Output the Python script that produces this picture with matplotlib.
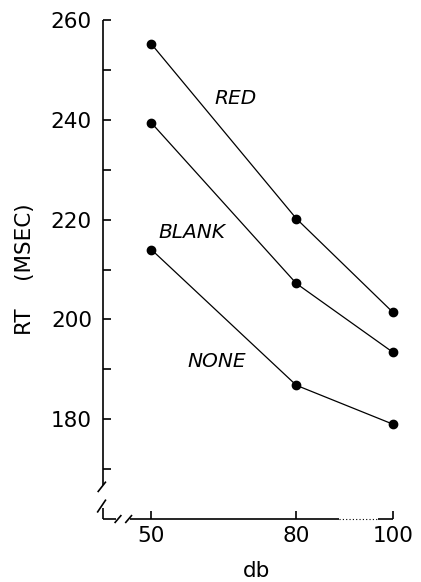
import matplotlib
matplotlib.use("Agg")
import matplotlib.pyplot as plt
from matplotlib.ticker import FixedLocator

# Reaction time (msec) by stimulus intensity (db) for each accessory condition
db_levels = [50, 80, 100]
rt_red = [255.2, 220.2, 201.4]
rt_blank = [239.4, 207.2, 193.4]
rt_none = [214.0, 186.8, 179.0]
series_names = ["RED", "BLANK", "NONE"]
name_pos = [(67.5, 244.2), (58.4, 217.5), (63.6, 191.5)]

y_major = [180, 200, 220, 240, 260]
y_minor = [170, 190, 210, 230, 250]

fig = plt.figure(figsize=(4.21, 5.82), dpi=100)
ax = fig.add_axes([0.2447, 0.1082, 0.6888, 0.8574])
ax.set_xlim(40, 100)
ax.set_ylim(160, 260)

for s in ax.spines.values():
    s.set_visible(False)

for vals in (rt_red, rt_blank, rt_none):
    ax.plot(db_levels, vals, color="black", lw=0.9, marker="o",
            markersize=6, clip_on=False, zorder=3)

for name, (x, y) in zip(series_names, name_pos):
    ax.text(x, y, name, fontsize=14.5, style="italic", ha="center",
            va="center", color="black")

# Broken axes drawn by hand
k = dict(color="black", lw=1.2, clip_on=False, solid_capstyle="butt")
ax.plot([40, 40], [260, 166.8], **k)
ax.plot([38.9, 40.6], [165.4, 167.5], **k)
ax.plot([38.8, 40.6], [161.3, 163.9], **k)
ax.plot([40, 40], [162.3, 160], **k)
ax.plot([40, 42.6], [160, 160], **k)
ax.plot([42.4, 43.8], [159.2, 160.8], **k)
ax.plot([44.6, 46.0], [159.2, 160.8], **k)
ax.plot([45.6, 88.9], [160, 160], **k)
ax.plot([88.9, 96.8], [160, 160], color="black", lw=0.8, ls=(0, (1, 2)),
        clip_on=False)
ax.plot([96.8, 100], [160, 160], **k)

ax.yaxis.set_major_locator(FixedLocator(y_major))
ax.yaxis.set_minor_locator(FixedLocator(y_minor))
ax.set_yticklabels([str(v) for v in y_major])
ax.xaxis.set_major_locator(FixedLocator(db_levels))
ax.set_xticklabels([str(v) for v in db_levels])

ax.tick_params(axis="both", which="both", direction="in", length=6,
               width=1.2, color="black", labelsize=15.5)
ax.tick_params(axis="y", pad=8)
ax.tick_params(axis="x", pad=5)

ax.set_ylabel("RT    (MSEC)", fontsize=15.5)
ax.yaxis.set_label_coords(-0.235, 0.50)
ax.set_xlabel("db", fontsize=15.5)
ax.xaxis.set_label_coords(0.53, -0.085)

fig.savefig("out.png", dpi=100)
